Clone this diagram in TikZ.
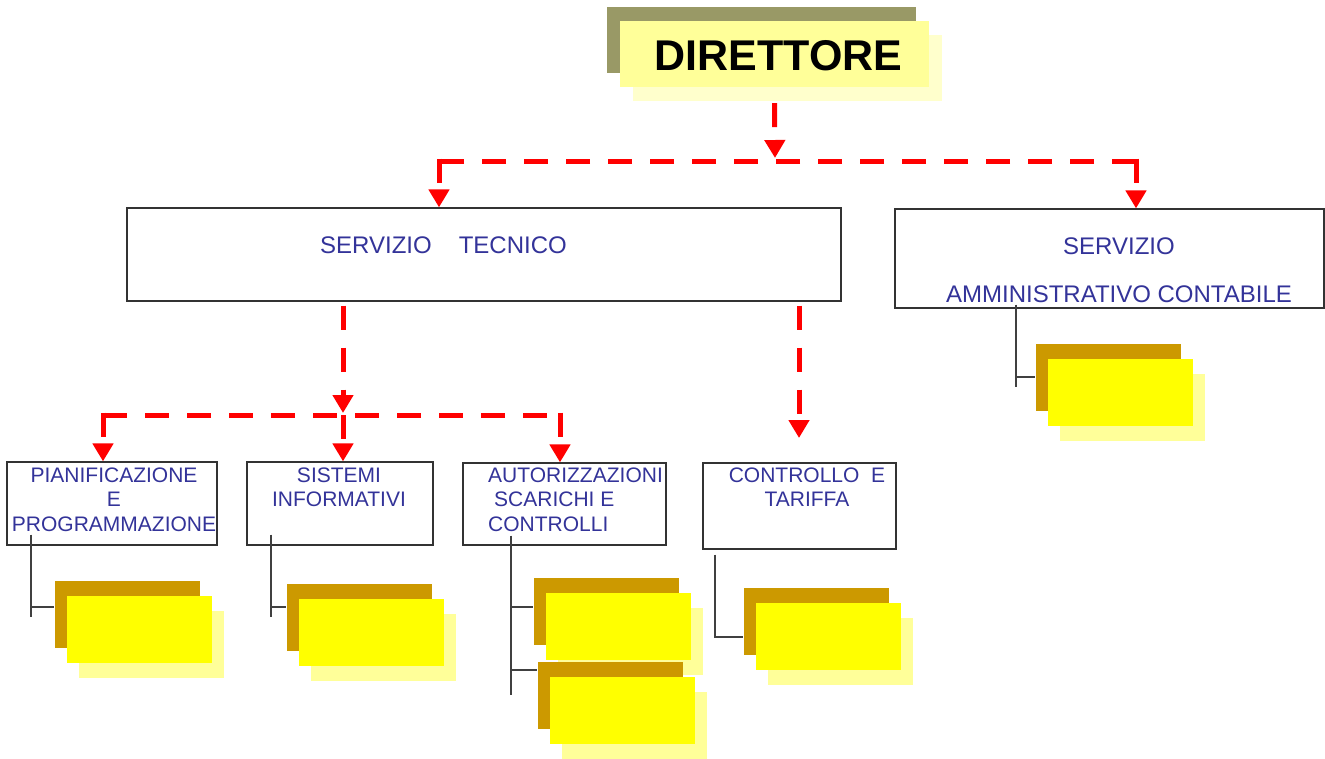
\documentclass[tikz,border=0pt]{standalone}
\usepackage{fontspec}
\setmainfont{Liberation Sans}
\usetikzlibrary{arrows.meta,shadows}
\definecolor{dirback}{RGB}{153,153,102}
\definecolor{dirfront}{RGB}{255,255,153}
\definecolor{dirshade}{RGB}{255,255,204}
\definecolor{subback}{RGB}{204,153,0}
\definecolor{subfront}{RGB}{255,255,0}
\definecolor{subshade}{RGB}{255,255,153}
\definecolor{navy}{RGB}{51,51,153}
\begin{document}
\begin{tikzpicture}[x=1pt, y=-1pt, >={Triangle[width=20pt,length=18pt]},
  head/.style = {fill=dirfront, inner sep=0pt, minimum width=309pt, minimum height=66pt,
    text height=34pt, font=\fontsize{43}{50}\selectfont\bfseries,
    copy shadow={shadow xshift=-13pt, shadow yshift=14pt, fill=dirback, draw=none},
    copy shadow={shadow xshift=13pt, shadow yshift=-14pt, fill=dirshade, draw=none}},
  unit/.style = {draw=black!80, line width=1.2pt, inner sep=0pt, fill=white},
  sub/.style = {fill=subfront, inner sep=0pt, minimum width=145pt, minimum height=67pt,
    copy shadow={shadow xshift=-12pt, shadow yshift=15pt, fill=subback, draw=none},
    copy shadow={shadow xshift=12pt, shadow yshift=-15pt, fill=subshade, draw=none}},
  txt/.style = {inner sep=0pt, text=navy, font=\fontsize{21}{24.5}\selectfont},
  link/.style = {draw=red, line width=5pt, dash pattern=on 24pt off 18pt},
  tree/.style = {draw=black!75, line width=1.2pt}]
\useasboundingbox (0,0) rectangle (1325,758);

\node[head] (dir) at (774.5,54) {\hspace*{8pt}DIRETTORE};

\node[unit, minimum width=714pt, minimum height=93pt] (st) at (484,254.5) {};
\node[unit, minimum width=429pt, minimum height=99pt] (sa) at (1109.5,258.5) {};
\node[unit, minimum width=210pt, minimum height=83pt] (pp) at (112,503.5) {};
\node[unit, minimum width=186pt, minimum height=83pt] (si) at (340,503.5) {};
\node[unit, minimum width=203pt, minimum height=82pt] (au) at (564.5,504) {};
\node[unit, minimum width=193pt, minimum height=86pt] (co) at (799.5,506) {};

\node[txt, font=\fontsize{24}{29}\selectfont, anchor=north west] (stt) at (320,237) {SERVIZIO\hspace{27pt}TECNICO};
\node[txt, font=\fontsize{24}{48}\selectfont, align=center, anchor=north] (sat) at (1119,238) {SERVIZIO\\AMMINISTRATIVO CONTABILE};
\node[txt, align=center, anchor=north] (ppt) at (114,467.5) {PIANIFICAZIONE\\E\\PROGRAMMAZIONE};
\node[txt, align=center, anchor=north] (sit) at (339,467.5) {SISTEMI\\INFORMATIVI};
\node[txt, align=left, anchor=north west] (aut) at (488,467.5) {AUTORIZZAZIONI\\\hspace*{6pt}SCARICHI E\\CONTROLLI};
\node[txt, align=center, anchor=north] (cot) at (807,467.5) {CONTROLLO\ \ E\\TARIFFA};

\node[sub] (p1) at (139.5,629.5) {};
\node[sub] (s1) at (371.5,632.5) {};
\node[sub] (a1) at (618.5,626.5) {};
\node[sub] (a2) at (622.5,710.5) {};
\node[sub] (k1) at (828.5,636.5) {};
\node[sub] (m1) at (1120.5,392.5) {};

\coordinate (d1) at (775,161);
\coordinate (t1) at (439,161);
\coordinate (t2) at (1136,161);
\coordinate (b0) at (343,415);
\coordinate (b1) at (103,415);
\coordinate (b2) at (560,415);
\coordinate (c1) at (799,438);

\draw[link, ->] ([yshift=-16pt]dir.south) -- ([yshift=3pt]d1);
\draw[link] (t2) -- (t1);
\draw[link, ->] ([yshift=2.5pt]t1) -- (t1 |- st.north);
\draw[link, ->] ([yshift=2.5pt]t2) -- (t2 |- sa.north);
\draw[link, ->] ([yshift=-4pt]st.south -| b0) -- ([yshift=2pt]b0);
\draw[link, ->] (b0) -- (b0 |- si.north);
\draw[link] (b1) -- (b2);
\draw[link, ->] ([yshift=2.5pt]b1) -- (b1 |- pp.north);
\draw[link, ->] ([yshift=2.5pt]b2) -- (b2 |- au.north);
\draw[link, ->] ([yshift=-4pt]st.south -| c1) -- (c1);

\coordinate (pk) at (31,607);
\coordinate (sk) at (271,607);
\coordinate (ak) at (511,607);
\coordinate (ak2) at (511,670);
\coordinate (ck) at (715,637);
\coordinate (mk) at (1016,377);

\draw[tree] ([yshift=11pt]pp.south -| pk) -- ([yshift=-10pt]pk) (pk) -- ([xshift=-13pt]p1.west |- pk);
\draw[tree] ([yshift=11pt]si.south -| sk) -- ([yshift=-10pt]sk) (sk) -- ([xshift=-13pt]s1.west |- sk);
\draw[tree] ([yshift=10pt]au.south -| ak) -- ([yshift=-25pt]ak2) (ak) -- ([xshift=-13pt]a1.west |- ak) (ak2) -- ([xshift=-13pt]a2.west |- ak2);
\draw[tree] ([yshift=-5pt]co.south -| ck) -- (ck) -- ([xshift=-13pt]k1.west |- ck);
\draw[tree] ([yshift=4pt]sa.south -| mk) -- ([yshift=-10pt]mk) (mk) -- ([xshift=-13pt]m1.west |- mk);
\end{tikzpicture}
\end{document}
